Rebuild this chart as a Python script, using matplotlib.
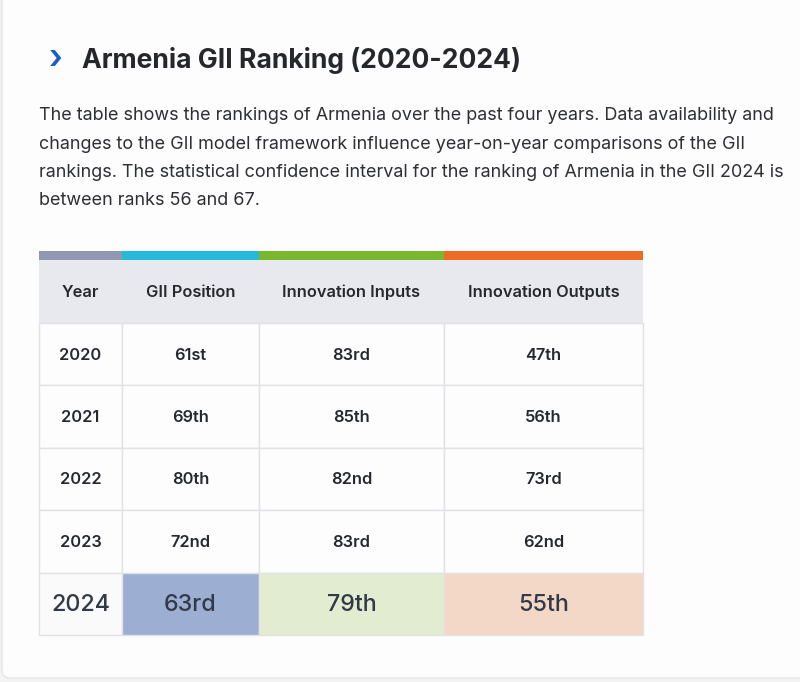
import matplotlib
matplotlib.use("Agg")
import matplotlib.pyplot as plt
from matplotlib.patches import Rectangle, FancyBboxPatch
from matplotlib import font_manager

plt.rcParams["font.family"] = ["Inter", "DejaVu Sans"]

TITLE = "Armenia GII Ranking (2020-2024)"
BODY = [
    "The table shows the rankings of Armenia over the past four years. Data availability and",
    "changes to the GII model framework influence year-on-year comparisons of the GII",
    "rankings. The statistical confidence interval for the ranking of Armenia in the GII 2024 is",
    "between ranks 56 and 67.",
]
COLUMNS = ["Year", "GII Position", "Innovation Inputs", "Innovation Outputs"]
years = ["2020", "2021", "2022", "2023", "2024"]
gii_position = ["61st", "69th", "80th", "72nd", "63rd"]
innovation_inputs = ["83rd", "85th", "82nd", "83rd", "79th"]
innovation_outputs = ["47th", "56th", "73rd", "62nd", "55th"]

# layout (pixels)
col_x = [39, 122, 259, 444, 643]
bar_top, head_top, body_top, row_h = 251, 260, 323, 62.4
bar_colors = ["#8f97b3", "#27b9da", "#77b82c", "#ef6a23"]
last_fill = ["#fafafb", "#9cafd2", "#e2ecd1", "#f3d8c8"]
TXT = "#25282d"
GRID = "#e2e2e6"

W, H = 800, 682
fig = plt.figure(figsize=(W / 100, H / 100), dpi=100, facecolor="#f3f3f4")
ax = fig.add_axes([0, 0, 1, 1])
ax.set_xlim(0, W)
ax.set_ylim(H, 0)
ax.axis("off")

# card
ax.add_patch(FancyBboxPatch((2, -20), W + 20, H - 4 + 20, boxstyle="round,pad=0,rounding_size=8",
                            fc="#fdfdfd", ec="#e6e6e8", lw=1))

ax.text(49, 59, "\u203A", color="#1a5fc0", fontsize=24, fontweight="semibold", va="center", ha="left")
ax.text(82, 60, TITLE, color="#25272b", fontsize=19.1, fontweight="bold", va="center", ha="left")
for i, line in enumerate(BODY):
    ax.text(39, 116 + i * 28.2, line, color="#2d2f33", fontsize=12.95, va="center", ha="left")

# colour bar + header
for c in range(4):
    x0, x1 = col_x[c], col_x[c + 1]
    ax.add_patch(Rectangle((x0, bar_top), x1 - x0, head_top - bar_top, fc=bar_colors[c], ec="none"))
    ax.add_patch(Rectangle((x0, head_top), x1 - x0, body_top - head_top, fc="#e8e9ee", ec="none"))
    ax.text((x0 + x1) / 2, (head_top + body_top) / 2 + 1, COLUMNS[c], color=TXT, fontsize=11.8,
            fontweight="semibold", ha="center", va="center")

table = list(zip(years, gii_position, innovation_inputs, innovation_outputs))
n = len(table)
for r, row in enumerate(table):
    y0 = body_top + r * row_h
    last = r == n - 1
    for c, val in enumerate(row):
        x0, x1 = col_x[c], col_x[c + 1]
        fc = last_fill[c] if last else "#fdfdfd"
        ax.add_patch(Rectangle((x0, y0), x1 - x0, row_h, fc=fc, ec=GRID, lw=1))
        if last:
            ax.text((x0 + x1) / 2, y0 + row_h / 2 + 1, val, color="#333a47", fontsize=16.8,
                    fontweight="medium", ha="center", va="center")
        else:
            ax.text((x0 + x1) / 2, y0 + row_h / 2 + 1, val, color=TXT, fontsize=11.8,
                    fontweight="semibold", ha="center", va="center")

fig.savefig("out.png", dpi=100, facecolor=fig.get_facecolor())
